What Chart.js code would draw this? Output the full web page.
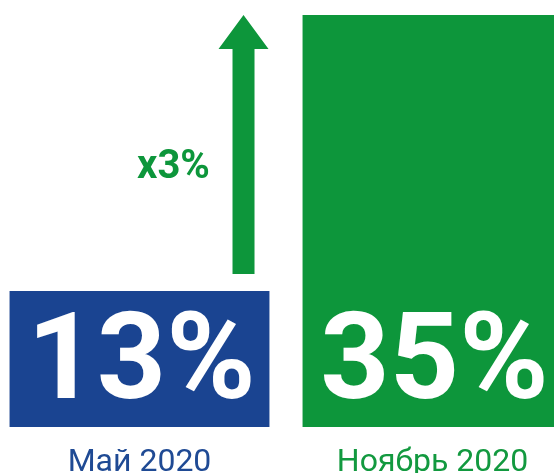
<!DOCTYPE html>
<html>
<head>
<meta charset="utf-8">
<script src="https://cdn.jsdelivr.net/npm/chart.js@4"></script>
<style>
  html, body { margin: 0; padding: 0; background: #fff; overflow: hidden; }
  #wrap { position: absolute; left: -7px; top: 0; }
</style>
</head>
<body>
<div id="wrap"><canvas id="myChart" width="600" height="473"></canvas></div>
<script>
// periods and share values
const months = ['Май 2020', 'Ноябрь 2020'];
const shares = [13, 35];
const barColors = ['#1a4491', '#0d963b'];
const labelColors = ['#1f4a94', '#12993f'];
const growthText = 'x3%';

// big white percent inside each bar + growth arrow between the bars
const overlay = {
  id: 'overlay',
  afterDatasetsDraw(chart) {
    const ctx = chart.ctx;
    const x = chart.scales.x, y = chart.scales.y;
    const meta = chart.getDatasetMeta(0);
    const bottom = chart.chartArea.bottom;

    ctx.save();
    ctx.fillStyle = '#fff';
    ctx.font = 'bold 121px Roboto';
    ctx.textAlign = 'center';
    ctx.textBaseline = 'alphabetic';
    meta.data.forEach((bar, i) => {
      ctx.fillText(shares[i] + '%', bar.x + 2, bottom - 29);
    });

    // arrow from just above the first bar up to the second bar's top
    const ax = x.getPixelForValue(0.355);
    const yBottom = y.getPixelForValue(14.35);
    const yTip = y.getPixelForValue(shares[1]);
    const shaft = 22, head = 50, headLen = 34;
    ctx.fillStyle = barColors[1];
    ctx.beginPath();
    ctx.moveTo(ax - shaft / 2, yBottom);
    ctx.lineTo(ax - shaft / 2, yTip + headLen);
    ctx.lineTo(ax - head / 2, yTip + headLen);
    ctx.lineTo(ax, yTip);
    ctx.lineTo(ax + head / 2, yTip + headLen);
    ctx.lineTo(ax + shaft / 2, yTip + headLen);
    ctx.lineTo(ax + shaft / 2, yBottom);
    ctx.closePath();
    ctx.fill();

    ctx.font = 'bold 40px Roboto';
    ctx.textBaseline = 'middle';
    ctx.fillText(growthText, x.getPixelForValue(0.116), y.getPixelForValue(22.8));
    ctx.restore();
  }
};

new Chart(document.getElementById('myChart'), {
  type: 'bar',
  data: {
    labels: months,
    datasets: [{
      data: shares,
      backgroundColor: barColors,
      borderWidth: 0,
      barPercentage: 1,
      categoryPercentage: 0.887
    }]
  },
  options: {
    responsive: false,
    animation: false,
    layout: { padding: { left: 0, right: 14, top: 0, bottom: 0 } },
    plugins: { legend: { display: false }, tooltip: { enabled: false } },
    scales: {
      x: {
        grid: { display: false, drawTicks: false },
        border: { display: false },
        afterFit: s => { s.height = 46; },
        ticks: {
          padding: 17,
          font: { family: 'Roboto', size: 32 },
          color: c => labelColors[c.index]
        }
      },
      y: {
        display: false,
        min: 2.15,
        max: 36.2
      }
    }
  },
  plugins: [overlay]
});
</script>
</body>
</html>
